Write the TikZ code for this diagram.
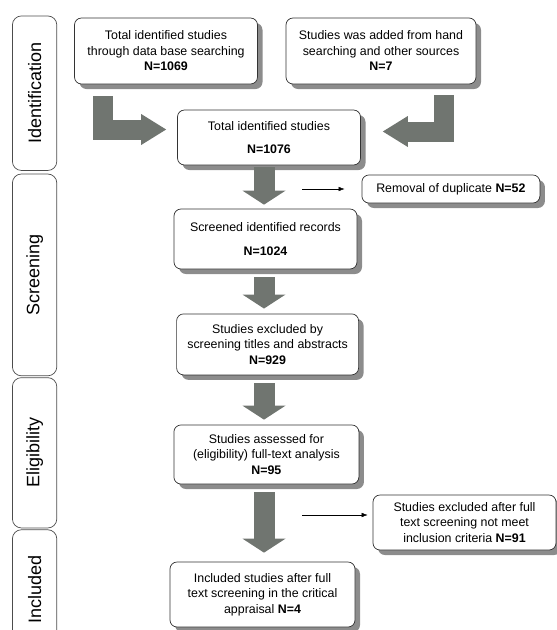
\documentclass[tikz,border=0pt]{standalone}
\usepackage{fontspec}
\setmainfont{Liberation Sans}
\usetikzlibrary{shadows, arrows.meta}

\definecolor{arrowgray}{RGB}{112,117,112}
\definecolor{shadowgray}{RGB}{140,140,140}

\begin{document}
\begin{tikzpicture}[> = {Latex[length = 6pt, width = 4.5pt]}, x = 1pt, y = -1pt,
	box/.style = {draw = black!80, line width = 0.7pt, fill = white, rounded corners = 7pt,
		align = center, inner sep = 2pt, font = \fontsize{12.4}{15.5}\selectfont,
		drop shadow = {shadow xshift = 5pt, shadow yshift = -5pt, fill = shadowgray, opacity = 1}},
	stage/.style = {draw = black!70, line width = 0.7pt, rounded corners = 9pt,
		minimum height = 44.4pt, rotate = 90, font = \fontsize{18}{20}\selectfont},
	blockdown/.style = {arrowgray, line width = 21pt,
		-{Triangle[width = 43pt, length = 14pt, line width = 0pt]}, shorten < = 8pt, shorten > = 5pt},
	blockL/.style = {arrowgray, line width = 20pt,
		-{Triangle[width = 31pt, length = 25pt, line width = 0pt]}}]

	\useasboundingbox (0, 0) rectangle (557, 630);
	\clip (0, 0) rectangle (557, 630);

	% Stage boxes

	\node [stage, minimum width = 154.5pt] (ident) at (34.6, 93.2) {Identification};
	\node [stage, minimum width = 201.8pt] (screen) at (34.6, 274.9) {Screening};
	\node [stage, minimum width = 150.3pt] (elig) at (34.6, 452.8) {Eligibility};
	\node [stage, minimum width = 120.3pt] (incl) at (34.6, 589.9) {Included};

	% Flow boxes

	\node [box, minimum width = 183pt, minimum height = 66pt] (data) at (166, 51)
		{Total identified studies\\through data base searching\\\textbf{N=1069}};
	\node [box, minimum width = 190pt, minimum height = 66pt] (hand) at (381, 51)
		{Studies was added from hand\\searching and other sources\\\textbf{N=7}};
	\node [box, minimum width = 183pt, minimum height = 55pt] (total) at (269, 137.5)
		{Total identified studies\\[8pt]\textbf{N=1076}};
	\node [box, minimum width = 178pt, minimum height = 28pt] (dupl) at (450.9, 189)
		{Removal of duplicate \textbf{N=52}};
	\node [box, minimum width = 183pt, minimum height = 60pt] (screened) at (265.5, 239)
		{Screened identified records\\[8pt]\textbf{N=1024}};
	\node [box, minimum width = 182pt, minimum height = 61pt] (titles) at (267.6, 344.4)
		{Studies excluded by\\screening titles and abstracts\\\textbf{N=929}};
	\node [box, minimum width = 185pt, minimum height = 59pt] (assessed) at (266.4, 454.5)
		{Studies assessed for\\(eligibility) full-text analysis\\\textbf{N=95}};
	\node [box, minimum width = 183pt, minimum height = 55pt] (fulltext) at (464.5, 522.5)
		{Studies excluded after full\\text screening not meet\\inclusion criteria \textbf{N=91}};
	\node [box, minimum width = 185pt, minimum height = 65pt] (included) at (262.5, 594.5)
		{Included studies after full\\text screening in the critical\\appraisal \textbf{N=4}};

	% Block arrows

	\coordinate (axis) at (264, 0);
	\coordinate (leftL) at (103, 96);
	\coordinate (rightL) at (444, 95);

	\draw [blockL, shorten > = 11pt] (leftL) |- ([yshift = 8pt] total.west);
	\draw [blockL, shorten > = 22pt] (rightL) |- ([yshift = 6pt] total.east);

	\draw [blockdown, shorten < = 2pt, shorten > = 4pt] (total.south -| axis) -- (screened.north -| axis);
	\draw [blockdown] (screened.south -| axis) -- (titles.north -| axis);
	\draw [blockdown] (titles.south -| axis) -- (assessed.north -| axis);
	\draw [blockdown, shorten > = 9pt] (assessed.south -| axis) -- (included.north -| axis);

	% Side arrows

	\coordinate (dup) at (302, 189);
	\coordinate (full) at (302, 515);
	\draw [->, shorten > = 17pt] (dup) -- (dup -| dupl.west);
	\draw [->, shorten > = 5pt] (full) -- (full -| fulltext.west);

\end{tikzpicture}
\end{document}
